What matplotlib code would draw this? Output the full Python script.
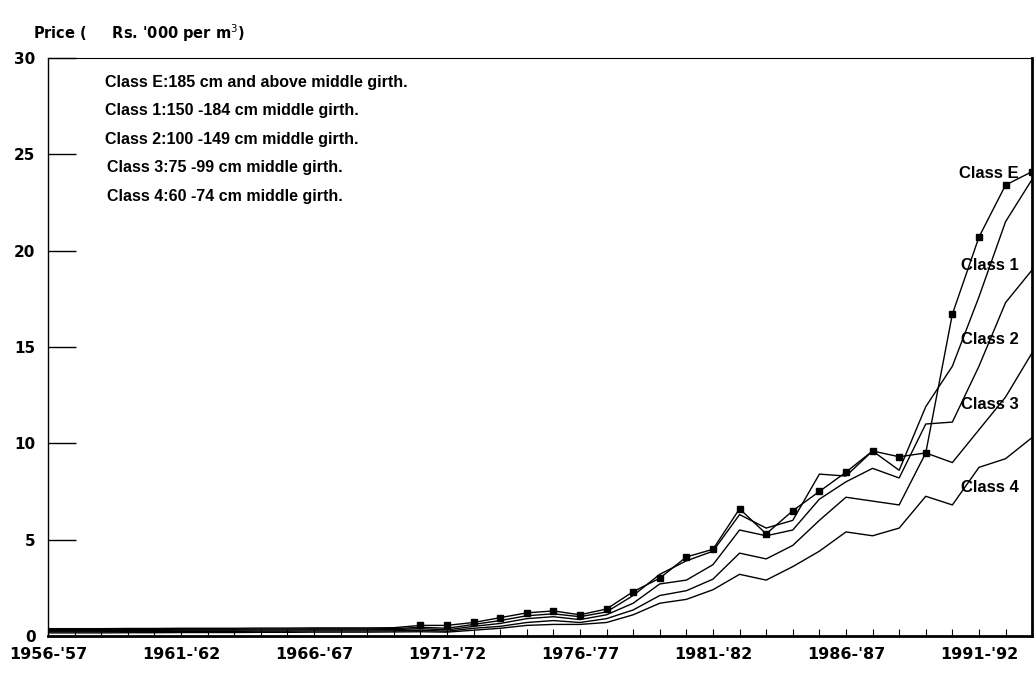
import matplotlib
matplotlib.use("Agg")
import matplotlib.pyplot as plt

years = ["1956-'57", "1957-'58", "1958-'59", "1959-'60", "1960-'61", "1961-'62",
         "1962-'63", "1963-'64", "1964-'65", "1965-'66", "1966-'67", "1967-'68",
         "1968-'69", "1969-'70", "1970-'71", "1971-'72", "1972-'73", "1973-'74",
         "1974-'75", "1975-'76", "1976-'77", "1977-'78", "1978-'79", "1979-'80",
         "1980-'81", "1981-'82", "1982-'83", "1983-'84", "1984-'85", "1985-'86",
         "1986-'87", "1987-'88", "1988-'89", "1989-'90", "1990-'91", "1991-'92",
         "1992-'93", "1993-'94"]

class_e = [0.38, 0.38, 0.38, 0.39, 0.39, 0.40, 0.40, 0.40, 0.41, 0.41, 0.42, 0.42,
           0.42, 0.43, 0.55, 0.55, 0.70, 0.95, 1.20, 1.30, 1.10, 1.40, 2.30, 3.00,
           4.10, 4.50, 6.60, 5.30, 6.50, 7.50, 8.50, 9.60, 9.30, 9.50, 16.7, 20.7,
           23.4, 24.1]
class_1 = [0.33, 0.33, 0.33, 0.34, 0.34, 0.35, 0.35, 0.35, 0.36, 0.36, 0.37, 0.37,
           0.37, 0.38, 0.45, 0.40, 0.60, 0.80, 1.05, 1.15, 1.00, 1.25, 2.10, 3.20,
           3.90, 4.40, 6.30, 5.60, 6.00, 8.40, 8.30, 9.60, 8.60, 11.9, 14.0, 17.6,
           21.5, 23.7]
class_2 = [0.28, 0.28, 0.28, 0.29, 0.29, 0.30, 0.30, 0.30, 0.31, 0.31, 0.32, 0.32,
           0.32, 0.33, 0.38, 0.32, 0.50, 0.65, 0.90, 1.00, 0.85, 1.10, 1.70, 2.70,
           2.90, 3.70, 5.50, 5.20, 5.50, 7.10, 8.00, 8.70, 8.20, 11.0, 11.1, 14.0,
           17.3, 19.0]
class_3 = [0.22, 0.22, 0.22, 0.23, 0.23, 0.24, 0.24, 0.24, 0.25, 0.25, 0.26, 0.26,
           0.26, 0.27, 0.30, 0.25, 0.40, 0.50, 0.70, 0.80, 0.70, 0.90, 1.35, 2.10,
           2.35, 2.95, 4.30, 4.00, 4.70, 6.00, 7.20, 7.00, 6.80, 9.50, 9.00, 10.7,
           12.4, 14.7]
class_4 = [0.16, 0.16, 0.16, 0.17, 0.17, 0.18, 0.18, 0.18, 0.19, 0.19, 0.20, 0.20,
           0.20, 0.21, 0.22, 0.20, 0.30, 0.40, 0.55, 0.60, 0.60, 0.70, 1.10, 1.70,
           1.90, 2.40, 3.20, 2.90, 3.60, 4.40, 5.40, 5.20, 5.60, 7.25, 6.80, 8.75,
           9.20, 10.3]

class_notes = ["Class E:185 cm and above middle girth.",
               "Class 1:150 -184 cm middle girth.",
               "Class 2:100 -149 cm middle girth.",
               "Class 3:75 -99 cm middle girth.",
               "Class 4:60 -74 cm middle girth."]
end_labels = ["Class E", "Class 1", "Class 2", "Class 3", "Class 4"]
end_label_y = [24.0, 19.2, 15.4, 12.0, 7.7]

narrow = ["Liberation Sans Narrow", "Liberation Sans", "DejaVu Sans"]
heavy = ["DejaVu Sans"]


def main():
    fig = plt.figure(figsize=(10.36, 6.73), dpi=100)
    ax = fig.add_axes([0.0463, 0.055, 0.950, 0.859])
    x = list(range(len(years)))

    ax.plot(x, class_e, color="black", lw=1.0, marker="s", ms=5,
            markevery=list(range(14, len(years))))
    for series in [class_1, class_2, class_3, class_4]:
        ax.plot(x, series, color="black", lw=1.0)

    ax.set_xlim(0, len(years) - 1)
    ax.set_ylim(0, 30)
    ax.set_yticks([0, 5, 10, 15, 20, 25, 30])
    ax.set_yticklabels(["0", "5", "10", "15", "20", "25", "30"],
                       family=heavy, weight="bold", fontsize=11)
    ax.set_xticks(x[::5])
    ax.set_xticklabels(years[::5], family=heavy, weight="bold", fontsize=11.5)
    ax.set_xticks(x, minor=True)
    ax.tick_params(axis="y", direction="in", length=20, width=1.0, pad=9)
    ax.tick_params(axis="x", which="both", direction="in", length=5, width=0.8, pad=8)

    ax.spines["top"].set_linewidth(0.8)
    ax.spines["left"].set_linewidth(1.0)
    ax.spines["right"].set_linewidth(2.0)
    ax.spines["bottom"].set_linewidth(2.0)

    fig.text(0.032, 0.951, "Price (     Rs. '000 per m$^3$)", family=heavy,
             weight="bold", fontsize=10.5, ha="left", va="center")

    for k, note in enumerate(class_notes):
        ax.text(0.058 + (0.002 if k >= 3 else 0), 0.958 - k * 0.0493, note,
                transform=ax.transAxes, family=narrow, weight="bold",
                fontsize=11.5, ha="left", va="center")

    for label, yv in zip(end_labels, end_label_y):
        ax.text(36.5, yv, label, family=narrow, weight="bold", fontsize=12,
                ha="right", va="center")

    fig.savefig("out.png", dpi=100)


if __name__ == "__main__":
    main()
